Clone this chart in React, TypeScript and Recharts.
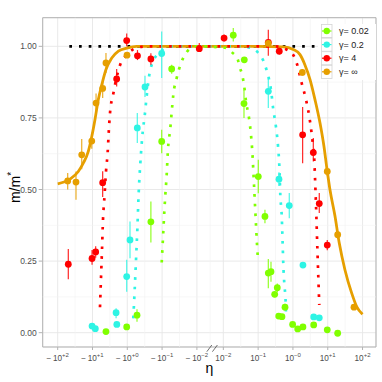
import React from 'react';
import {
  ComposedChart,
  Line,
  Scatter,
  ErrorBar,
  XAxis,
  YAxis,
  CartesianGrid,
  ReferenceLine,
  ReferenceArea,
  ReferenceDot,
  Legend,
} from 'recharts';

// broken symlog axis: one unit per decade, 0.76 units for the cut round zero
const toU = (eta: number) => {
  if (eta <= -0.01) return 2 - Math.log10(-eta);
  if (eta >= 0.01) return 6.76 + Math.log10(eta);
  return 4 + ((eta + 0.01) / 0.02) * 0.76;
};

const X_TICK_ETA = [-100, -10, -1, -0.1, -0.01, 0.01, 0.1, 1, 10, 100];
const X_TICK_SIGN = ['−', '−', '−', '−', '−', '', '', '', '', ''];
const X_TICK_EXP = ['+2', '+1', '+0', '−1', '−2', '−2', '−1', '−0', '+1', '+2'];
const Y_TICKS = [0, 0.25, 0.5, 0.75, 1];

const LEGEND_LABELS = ['γ= 0.02', 'γ= 0.2', 'γ= 4', 'γ= ∞'];
const COLORS = ['#80FF00', '#2EF4E4', '#FF0000', '#E69F00'];

// theory curves [eta, m/m*]
const curveSmall: [number, number][] = [
  [-0.1026, 0.245], [-0.0942, 0.332], [-0.0865, 0.42], [-0.0809, 0.48], [-0.0738, 0.551],
  [-0.0686, 0.63], [-0.058, 0.715], [-0.053, 0.77], [-0.0476, 0.831], [-0.038, 0.89],
  [-0.0327, 0.92], [-0.0274, 0.947], [-0.0196, 0.98], [-0.0113, 1], [0.0111, 0.995],
  [0.0181, 0.978], [0.0258, 0.955], [0.0301, 0.925], [0.0351, 0.898], [0.0392, 0.866],
  [0.0448, 0.808], [0.0546, 0.75], [0.0624, 0.69], [0.0679, 0.633], [0.076, 0.518],
  [0.0828, 0.427], [0.0927, 0.31], [0.099, 0.252],
];
const curveMid: [number, number][] = [
  [-0.673, 0.05], [-0.612, 0.152], [-0.562, 0.254], [-0.516, 0.357], [-0.47, 0.49],
  [-0.423, 0.59], [-0.361, 0.7], [-0.316, 0.758], [-0.277, 0.826], [-0.238, 0.893],
  [-0.171, 0.954], [-0.129, 0.973], [-0.077, 0.995], [-0.043, 1], [-0.01, 1], [0.01, 1],
  [0.03, 1], [0.0583, 0.995], [0.101, 0.977], [0.141, 0.95], [0.176, 0.916], [0.205, 0.886],
  [0.23, 0.855], [0.272, 0.78], [0.326, 0.718], [0.372, 0.653], [0.406, 0.584], [0.434, 0.48],
  [0.475, 0.411], [0.508, 0.306], [0.528, 0.24], [0.564, 0.172], [0.619, 0.105], [0.63, 0.07],
];
const curveFour: [number, number][] = [
  [-6.09, 0.089], [-5.7, 0.19], [-5.33, 0.29], [-4.99, 0.394], [-4.5, 0.48], [-4.09, 0.563],
  [-3.66, 0.631], [-3.42, 0.699], [-3.14, 0.767], [-2.52, 0.835], [-2.04, 0.89], [-1.62, 0.934],
  [-1.02, 0.971], [-0.53, 0.995], [-0.27, 1], [-0.01, 1], [0.01, 1], [0.3, 1], [0.63, 0.99],
  [1.02, 0.97], [1.28, 0.942], [1.78, 0.872], [2.37, 0.814], [2.95, 0.755], [3.46, 0.694],
  [3.7, 0.664], [4.11, 0.604], [4.31, 0.54], [4.59, 0.45], [5.08, 0.28], [5.71, 0.097],
];
const curveInf: [number, number][] = [
  [-100, 0.52], [-44.4, 0.536], [-25.6, 0.563], [-18.4, 0.592], [-13.2, 0.633], [-10.5, 0.685],
  [-8.5, 0.744], [-6.8, 0.814], [-5.4, 0.866], [-4.1, 0.919], [-2.8, 0.959], [-1.8, 0.983],
  [-1.04, 0.994], [-0.54, 1], [-0.1, 1], [0.1, 1], [0.53, 0.998], [1.02, 0.989], [1.6, 0.971],
  [2.2, 0.936], [3.1, 0.884], [4.3, 0.814], [6.0, 0.732], [7.8, 0.65], [9.3, 0.58], [11.6, 0.499],
  [16.1, 0.408], [21.5, 0.312], [31.3, 0.219], [48.8, 0.138], [67.9, 0.091], [100, 0.064],
];
const curveRef: [number, number][] = [[-46.4, 1], [46.4, 1]];

// measurements [eta, m/m*, error below, error above]
const ptsSmall: [number, number, number, number][] = [
  [-4.1, 0.004, 0, 0], [-1.04, 0.02, 0, 0], [-0.526, 0.061, 0.023, 0.021],
  [-0.21, 0.387, 0.072, 0.071], [-0.1026, 0.668, 0.041, 0.041], [-0.053, 0.921, 0.017, 0.015],
  [0.0193, 1.039, 0.022, 0.025], [0.04, 0.953, 0.01, 0.01], [0.0392, 0.8, 0.05, 0.048],
  [0.101, 0.545, 0.058, 0.059], [0.157, 0.406, 0.024, 0.023], [0.196, 0.208, 0.053, 0.049],
  [0.234, 0.213, 0.035, 0.035], [0.299, 0.134, 0.01, 0.01], [0.355, 0.157, 0.015, 0.015],
  [0.39, 0.058, 0, 0], [0.484, 0.056, 0, 0], [0.592, 0.089, 0.012, 0.012], [0.98, 0.029, 0, 0],
  [1.37, 0.013, 0, 0], [1.94, 0.02, 0, 0], [3.95, 0.027, 0, 0], [9.7, 0.01, 0, 0],
  [19.3, -0.002, 0, 0],
];
const ptsMid: [number, number, number, number][] = [
  [-10.3, 0.023, 0, 0], [-8.3, 0.014, 0, 0], [-2.1, 0.07, 0.02, 0.015], [-2.0, 0.029, 0, 0],
  [-1.04, 0.196, 0.053, 0.059], [-0.836, 0.324, 0.064, 0.064], [-0.516, 0.715, 0.053, 0.052],
  [-0.31, 0.858, 0.035, 0.039], [-0.1026, 0.975, 0.086, 0.077], [0.196, 0.843, 0.058, 0.046],
  [0.397, 0.536, 0.024, 0.024], [0.785, 0.444, 0.044, 0.044], [1.94, 0.236, 0, 0],
  [3.95, 0.055, 0, 0], [5.71, 0.052, 0, 0],
];
const ptsFour: [number, number, number, number][] = [
  [-49.6, 0.239, 0.052, 0.053], [-10.3, 0.259, 0.022, 0.03], [-8.1, 0.282, 0.02, 0.02],
  [-5.1, 0.524, 0.05, 0.04], [-2.02, 0.886, 0.026, 0.035], [-1.04, 1.02, 0.02, 0.025],
  [-0.51, 0.967, 0.015, 0.02], [-0.21, 0.956, 0.02, 0.02], [-0.0082, 0.992, 0.012, 0.02],
  [0.0105, 1.029, 0.012, 0.012], [0.196, 1.014, 0.047, 0.044], [0.405, 0.983, 0.012, 0.012],
  [1.9, 0.691, 0.099, 0.097], [3.85, 0.629, 0.031, 0.051], [5.71, 0.451, 0.033, 0.037],
  [9.7, 0.306, 0.018, 0.018],
];
const ptsInf: [number, number, number, number][] = [
  [-51.6, 0.53, 0.03, 0.028], [-29.8, 0.526, 0.062, 0.037], [-20.4, 0.621, 0.05, 0.055],
  [-10.5, 0.669, 0.027, 0.029], [-7.9, 0.802, 0.029, 0.033], [-5.1, 0.853, 0.033, 0.031],
  [-4.1, 0.942, 0.035, 0.035], [-1.02, 0.969, 0.01, 0.01], [0.196, 1.01, 0.008, 0.008],
  [1.86, 0.909, 0.012, 0.012], [9.7, 0.563, 0.015, 0.015], [19.3, 0.342, 0.012, 0.012],
  [56.8, 0.089, 0.01, 0.01],
];

const toCurve = (c: [number, number][]) => c.map(([eta, m]) => ({ u: toU(eta), m }));
const toPts = (p: [number, number, number, number][]) =>
  p.map(([eta, m, lo, hi]) => ({ u: toU(eta), m, err: [lo, hi] }));

const X_TICK_U = X_TICK_ETA.map(toU);
const X_MINOR = X_TICK_U.slice(1).map((u, i) => (u + X_TICK_U[i]) / 2);
const Y_MINOR = Y_TICKS.slice(1).map((v, i) => (v + Y_TICKS[i]) / 2);
const X_DOMAIN = [-0.431, 9.147];
const Y_DOMAIN = [-0.05, 1.1];

const FONT = '"Liberation Sans", Arial, Helvetica, sans-serif';

const XTick = (props: any) => {
  const { x, payload } = props;
  let i = 0;
  X_TICK_U.forEach((u, k) => {
    if (Math.abs(u - payload.value) < Math.abs(X_TICK_U[i] - payload.value)) i = k;
  });
  return (
    <text x={x} y={361} textAnchor="middle" fontSize={8.2} fill="#4D4D4D" fontFamily={FONT}>
      {X_TICK_SIGN[i] ? X_TICK_SIGN[i] + '\u2009' : ''}10
      <tspan dy={-3.6} fontSize={6}>{X_TICK_EXP[i]}</tspan>
    </text>
  );
};

const XTitle = () => (
  <text x={209.4} y={373} textAnchor="middle" fontSize={14} fill="#000" fontFamily={FONT}>
    η
  </text>
);

const YTitle = () => (
  <text transform="translate(20,187.5) rotate(-90)" textAnchor="middle" fontSize={14} fill="#000" fontFamily={FONT}>
    m/m<tspan dy={-5} fontSize={10}>*</tspan>
  </text>
);

const BreakMark = (props: any) => {
  const { cx, cy } = props;
  return (
    <g stroke="#4D4D4D" strokeWidth={0.8}>
      <line x1={cx - 3.3} y1={cy + 4.7} x2={cx + 1.7} y2={cy - 2} />
      <line x1={cx + 2.3} y1={cy + 4.7} x2={cx + 7.3} y2={cy - 2} />
    </g>
  );
};

const dot = (color: string) => (props: any) => (
  <circle cx={props.cx} cy={props.cy} r={3.4} fill={color} />
);

const LegendBox = () => (
  <svg width={58} height={56} style={{ display: 'block' }}>
    <rect x={0} y={0} width={58} height={56} fill="#fff" />
    {LEGEND_LABELS.map((label, i) => {
      const y = i * 13.6;
      return (
        <g key={label}>
          <rect x={3.5} y={y + 0.5} width={10.5} height={13.1} fill="#fff" stroke="#D4D4D4" strokeWidth={0.8} />
          <line x1={4} x2={13.5} y1={y + 7} y2={y + 7} stroke={COLORS[i]} strokeWidth={1.2} />
          <circle cx={8.75} cy={y + 7} r={3.2} fill={COLORS[i]} />
          <text x={21} y={y + 10.2} fontSize={9} fill="#1A1A1A" fontFamily={FONT}>
            {label}
          </text>
        </g>
      );
    })}
  </svg>
);

const dotted = { strokeWidth: 2.7, strokeDasharray: '2.7 7' };

export default function App() {
  const series = [
    { curve: curveSmall, pts: ptsSmall },
    { curve: curveMid, pts: ptsMid },
    { curve: curveFour, pts: ptsFour },
  ];
  return (
    <div style={{ position: 'absolute', left: 0, top: 0, background: '#fff', fontFamily: FONT }}>
      <ComposedChart width={382} height={382} margin={{ top: 17.7, right: 6, bottom: 0, left: 0 }}>
        <CartesianGrid stroke="#E6E6E6" strokeWidth={0.9} />
        {X_MINOR.map((u) => (
          <ReferenceLine key={'xm' + u} x={u} stroke="#F2F2F2" strokeWidth={0.6} />
        ))}
        {Y_MINOR.map((v) => (
          <ReferenceLine key={'ym' + v} y={v} stroke="#F2F2F2" strokeWidth={0.6} />
        ))}
        <XAxis
          type="number"
          dataKey="u"
          domain={X_DOMAIN}
          ticks={X_TICK_U}
          allowDataOverflow
          height={35}
          axisLine={false}
          tickSize={3}
          tickLine={{ stroke: '#B3B3B3' }}
          tick={<XTick />}
          interval={0}
          label={<XTitle />}
        />
        <YAxis
          type="number"
          dataKey="m"
          domain={Y_DOMAIN}
          ticks={Y_TICKS}
          allowDataOverflow
          width={42.7}
          axisLine={false}
          tickSize={4}
          tickMargin={2}
          tickLine={{ stroke: '#B3B3B3' }}
          tick={{ fill: '#4D4D4D', fontSize: 8.5, fontFamily: FONT }}
          tickFormatter={(v: number) => v.toFixed(2)}
          interval={0}
          label={<YTitle />}
        />
        <Line data={toCurve(curveRef)} dataKey="m" stroke="#000" dot={false} type="linear" isAnimationActive={false} {...dotted} />
        <Line data={toCurve(curveInf)} dataKey="m" stroke={COLORS[3]} strokeWidth={2.8} dot={false} type="monotone" isAnimationActive={false} />
        {series.map((s, i) => (
          <Line
            key={'c' + i}
            data={toCurve(s.curve)}
            dataKey="m"
            stroke={COLORS[i]}
            dot={false}
            type="monotone"
            isAnimationActive={false}
            {...dotted}
          />
        ))}
        {[...series, { curve: curveInf, pts: ptsInf }].map((s, i) => (
          <Scatter key={'p' + i} data={toPts(s.pts)} dataKey="m" shape={dot(COLORS[i])} isAnimationActive={false}>
            <ErrorBar dataKey="err" direction="y" width={0} stroke={COLORS[i]} strokeWidth={1.2} strokeOpacity={0.85} />
          </Scatter>
        ))}
        <ReferenceArea x1={X_DOMAIN[0]} x2={X_DOMAIN[1]} y1={Y_DOMAIN[0]} y2={Y_DOMAIN[1]} fill="none" stroke="#B3B3B3" strokeWidth={1} ifOverflow="visible" />
        <ReferenceDot x={(toU(-0.01) + toU(0.01)) / 2} y={Y_DOMAIN[0]} ifOverflow="visible" shape={BreakMark} />
        <Legend
          layout="vertical"
          align="center"
          verticalAlign="middle"
          wrapperStyle={{ left: 318, top: 24, width: 58, height: 56 }}
          content={() => <LegendBox />}
        />
      </ComposedChart>
    </div>
  );
}
